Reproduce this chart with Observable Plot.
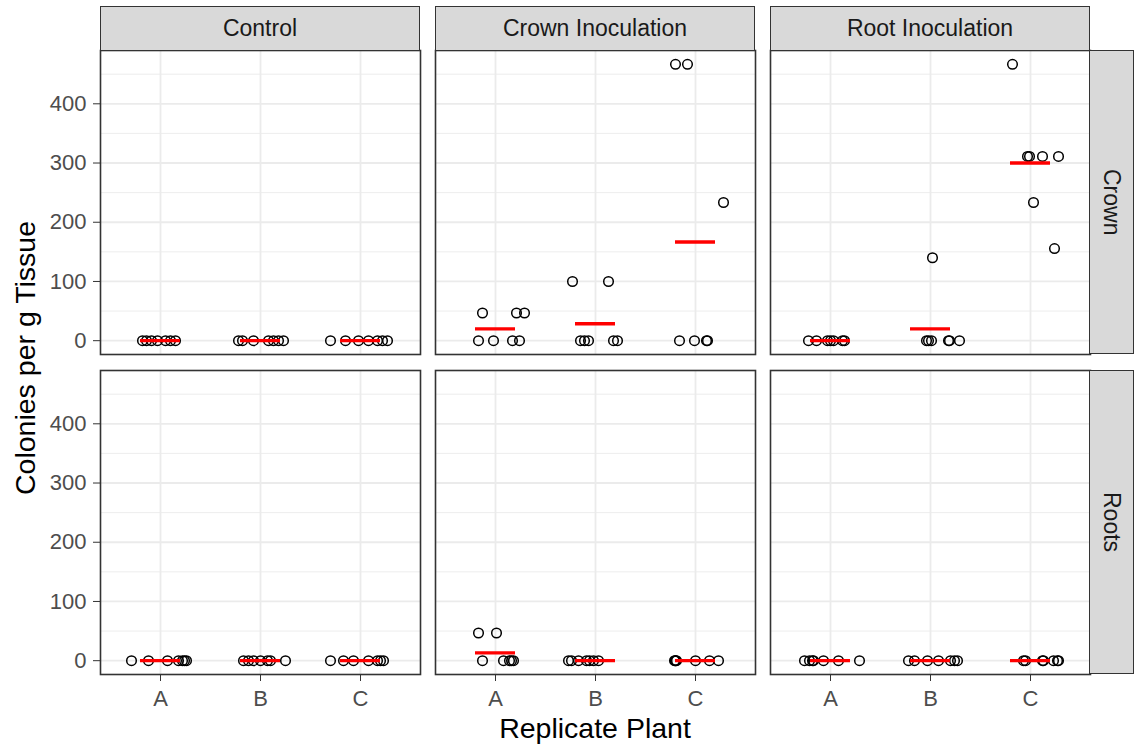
<!DOCTYPE html>
<html>
<head>
<meta charset="utf-8">
<script src="https://cdn.jsdelivr.net/npm/d3@7"></script>
<script src="https://cdn.jsdelivr.net/npm/@observablehq/plot@0.6"></script>
<style>
  body { margin: 0; background: #fff; }
  #fig { position: relative; width: 1135px; height: 748px; overflow: hidden; background: #fff;
         font-family: "Liberation Sans", Arial, Helvetica, sans-serif; }
  .panel { position: absolute; }
  .panel text { fill: #4D4D4D; }
  .strip { position: absolute; box-sizing: border-box; background: #D9D9D9; border: 1.6px solid #333;
           color: #1A1A1A; font-size: 23px; display: flex; align-items: center; justify-content: center;
           white-space: nowrap; }
  .strip.right { writing-mode: vertical-rl; }
  .title { position: absolute; color: #000; font-size: 28.5px; line-height: 1; white-space: nowrap; }
</style>
</head>
<body>
<div id="fig"></div>
<script>
// Facet levels and x categories
const treatments = ["Control", "Crown Inoculation", "Root Inoculation"];
const tissues = ["Crown", "Roots"];
const plants = ["A", "B", "C"];
const yTicks = [0, 100, 200, 300, 400];
const yMinor = [50, 150, 250, 350, 450];

// Colonies per g tissue, one sub-array per replicate plant (A, B, C)
const ctrlCrownColonies = [[0,0,0,0,0,0,0],[0,0,0,0,0,0,0],[0,0,0,0,0,0,0]];
const ctrlRootsColonies = [[0,0,0,0,0,0,0],[0,0,0,0,0,0,0],[0,0,0,0,0,0,0]];
const crownCrownColonies = [[46.67,46.67,46.67,0,0,0,0],[100,100,0,0,0,0,0],[466.67,466.67,233.33,0,0,0,0]];
const crownRootsColonies = [[46.67,46.67,0,0,0,0,0],[0,0,0,0,0,0,0],[0,0,0,0,0,0,0]];
const rootCrownColonies = [[0,0,0,0,0,0,0],[140,0,0,0,0,0,0],[466.67,311.11,311.11,311.11,311.11,233.33,155.56]];
const rootRootsColonies = [[0,0,0,0,0,0,0],[0,0,0,0,0,0,0],[0,0,0,0,0,0,0]];

// Horizontal jitter of each observation, in category widths
const ctrlCrownJitter = [[-0.18,-0.14,-0.09,-0.03,0.05,0.10,0.15],[-0.22,-0.18,-0.07,0.08,0.13,0.18,0.23],[-0.30,-0.15,-0.02,0.08,0.17,0.22,0.27]];
const ctrlRootsJitter = [[-0.29,-0.12,0.07,0.18,0.22,0.24,0.26],[-0.17,-0.12,-0.07,0.0,0.07,0.10,0.25],[-0.30,-0.17,-0.07,0.08,0.17,0.20,0.23]];
const crownCrownJitter = [[-0.13,0.21,0.29,-0.17,-0.02,0.17,0.24],[-0.23,0.13,-0.15,-0.11,-0.07,0.18,0.22],[-0.20,-0.08,0.28,-0.16,-0.01,0.11,0.12]];
const crownRootsJitter = [[-0.17,0.01,-0.13,0.08,0.14,0.16,0.18],[-0.27,-0.24,-0.17,-0.09,-0.06,-0.02,0.03],[-0.21,-0.20,-0.20,-0.19,0.0,0.14,0.23]];
const rootCrownJitter = [[-0.22,-0.14,-0.03,0.0,0.03,0.12,0.14],[0.02,-0.04,-0.02,0.01,0.18,0.19,0.29],[-0.18,-0.03,-0.01,0.12,0.28,0.03,0.24]];
const rootRootsJitter = [[-0.26,-0.21,-0.18,-0.17,-0.07,0.08,0.29],[-0.22,-0.16,-0.03,0.08,0.20,0.24,0.27],[-0.07,-0.05,0.12,0.13,0.23,0.27,0.28]];

const panels = [
  {treatment: 0, tissue: 0, colonies: ctrlCrownColonies, jitter: ctrlCrownJitter},
  {treatment: 1, tissue: 0, colonies: crownCrownColonies, jitter: crownCrownJitter},
  {treatment: 2, tissue: 0, colonies: rootCrownColonies, jitter: rootCrownJitter},
  {treatment: 0, tissue: 1, colonies: ctrlRootsColonies, jitter: ctrlRootsJitter},
  {treatment: 1, tissue: 1, colonies: crownRootsColonies, jitter: crownRootsJitter},
  {treatment: 2, tissue: 1, colonies: rootRootsColonies, jitter: rootRootsJitter}
];

// Layout of the facet grid
const PW = 320, PH = 304;
const colLeft = [100, 435, 770];
const rowTop = [50, 370];
const stripSize = 44.5;

// Shared y domain with 5% expansion on each side
const allValues = panels.flatMap(p => p.colonies.flat());
const yMin = d3.min(allValues), yMax = d3.max(allValues);
const yPad = (yMax - yMin) * 0.05;
const yDomain = [yMin - yPad, yMax + yPad];

const fig = document.getElementById("fig");

for (const p of panels) {
  const showY = p.treatment === 0;
  const showX = p.tissue === 1;
  const ml = showY ? 100 : 0;
  const mb = showX ? 40 : 0;

  const points = p.colonies.flatMap((vals, k) =>
    vals.map((v, i) => ({x: k + 1 + p.jitter[k][i], y: v})));
  const means = p.colonies.map((vals, k) => ({x: k + 1, mean: d3.mean(vals)}));

  const chart = Plot.plot({
    width: ml + PW,
    height: PH + mb,
    marginLeft: ml, marginRight: 0, marginTop: 0, marginBottom: mb,
    style: {background: "transparent", color: "#333", fontSize: "22px",
            fontFamily: "'Liberation Sans', Arial, Helvetica, sans-serif", overflow: "visible"},
    x: {domain: [0.4, 3.6], ticks: [1, 2, 3], tickFormat: d => plants[d - 1],
        tickSize: 7, tickPadding: 9, label: null, axis: showX ? "bottom" : null},
    y: {domain: yDomain, ticks: yTicks, tickSize: 7, tickPadding: 7,
        label: null, axis: showY ? "left" : null},
    marks: [
      Plot.ruleY(yMinor, {stroke: "#EBEBEB", strokeWidth: 0.9}),
      Plot.ruleY(yTicks, {stroke: "#EBEBEB", strokeWidth: 1.8}),
      Plot.ruleX([1, 2, 3], {stroke: "#EBEBEB", strokeWidth: 1.8}),
      Plot.dot(points, {x: "x", y: "y", r: 4.8, stroke: "black", strokeWidth: 1.5, fill: "none"}),
      Plot.ruleY(means, {y: "mean", x1: d => d.x - 0.2, x2: d => d.x + 0.2, stroke: "red", strokeWidth: 3.3}),
      Plot.frame({stroke: "#333", strokeWidth: 1.6})
    ]
  });
  chart.classList.add("panel");
  chart.style.left = (colLeft[p.treatment] - ml) + "px";
  chart.style.top = rowTop[p.tissue] + "px";
  fig.appendChild(chart);
}

// Column strips
treatments.forEach((t, i) => {
  const s = document.createElement("div");
  s.className = "strip";
  s.textContent = t;
  Object.assign(s.style, {left: colLeft[i] + "px", top: (rowTop[0] - stripSize) + "px",
                          width: PW + "px", height: (stripSize + 0.8) + "px"});
  fig.appendChild(s);
});

// Row strips
tissues.forEach((t, j) => {
  const s = document.createElement("div");
  s.className = "strip right";
  s.textContent = t;
  Object.assign(s.style, {left: (colLeft[2] + PW - 0.8) + "px", top: rowTop[j] + "px",
                          width: (stripSize + 0.8) + "px", height: PH + "px"});
  fig.appendChild(s);
});

// Axis titles
const xt = document.createElement("div");
xt.className = "title";
xt.textContent = "Replicate Plant";
Object.assign(xt.style, {left: (colLeft[0] + (colLeft[2] + PW - colLeft[0]) / 2) + "px", top: "728px",
                         transform: "translate(-50%, -50%)"});
fig.appendChild(xt);

const yt = document.createElement("div");
yt.className = "title";
yt.textContent = "Colonies per g Tissue";
Object.assign(yt.style, {left: "25px", top: "358px",
                         transform: "translate(-50%, -50%) rotate(-90deg)"});
fig.appendChild(yt);
</script>
</body>
</html>
